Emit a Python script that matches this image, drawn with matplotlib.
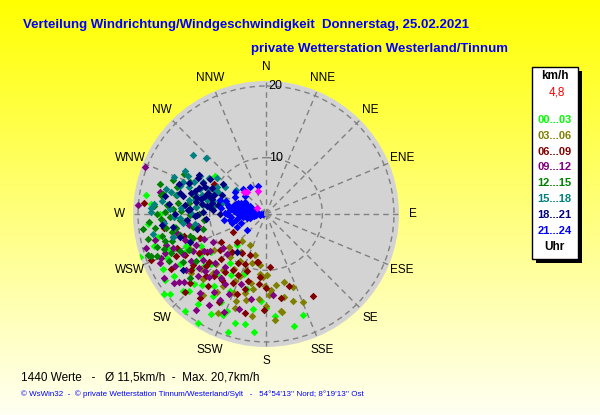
import numpy as np
from matplotlib import pyplot as plt
from matplotlib.patches import Rectangle

""" Windrose scatter: direction vs. speed, coloured by 3-hour block """

# direction (deg, compass) and speed (km/h) per 3-hour block
dir_00_03 = [186, 160, 251, 232, 212, 307, 279, 275, 254, 237, 217, 209, 202, 196, 191, 183, 194, 216, 216, 225,
             227, 223, 265, 240, 245, 230, 222, 205, 210, 200, 235, 250, 258, 242, 230, 188, 175, 166, 198, 220,
             228, 233, 238, 219, 213, 226, 246, 207, 262, 270, 203, 180, 244, 236, 248]
spd_00_03 = [18.7, 17.1, 20.7, 20.2, 20.1, 11.0, 19.1, 18.3, 18.4, 19.0, 17.8, 18.1, 16.8, 18.0, 17.8, 14.3, 13.0, 10.6, 14.6, 17.4,
             18.0, 8.0, 18.7, 16.0, 14.5, 13.5, 15.5, 14.0, 12.0, 11.0, 11.5, 16.5, 17.5, 18.5, 19.6, 15.5, 16.5, 18.2, 19.5, 19.8,
             12.5, 15.0, 13.0, 13.0, 15.8, 16.2, 17.2, 16.0, 15.0, 17.0, 17.5, 15.2, 12.2, 17.6, 14.2]

dir_03_06 = [157, 171, 172, 181, 207, 221, 196, 187, 179, 165, 171, 192, 289, 200, 205, 210, 215, 220, 225,
             230, 212, 202, 195, 185, 178, 168, 160, 188, 198, 218, 228, 235, 240, 195, 183, 175, 206, 214,
             190, 203, 211, 217, 224, 199, 186, 176, 209, 193, 222, 232, 163, 180, 245]
spd_03_06 = [15.5, 15.8, 12.2, 12.2, 7.0, 7.2, 9.2, 9.3, 10.6, 12.0, 16.0, 12.0, 10.9, 10.5, 12.5, 11.0, 13.0, 10.0, 12.0,
             14.0, 15.0, 14.0, 13.5, 14.0, 13.5, 14.0, 13.0, 16.5, 16.0, 16.5, 9.0, 11.0, 12.5, 8.0, 11.0, 17.0, 17.5, 8.5,
             12.8, 11.5, 13.8, 12.0, 14.8, 15.0, 10.5, 12.8, 9.6, 14.5, 13.2, 15.5, 14.8, 15.0, 13.8]

dir_06_09 = [150, 162, 176, 190, 226, 248, 196, 181, 191, 201, 275, 300, 242, 210, 215, 220, 225, 230, 235,
             240, 245, 205, 200, 208, 218, 228, 238, 232, 212, 186, 192, 170, 250, 255, 198, 222, 185, 240,
             214, 224, 233, 243, 206, 219, 229, 237, 195, 211, 249, 203, 226, 180, 262]
spd_06_09 = [15.3, 12.7, 9.5, 8.9, 7.8, 19.4, 13.0, 15.6, 9.0, 8.2, 19.2, 10.6, 7.4, 10.0, 12.0, 13.5, 11.0, 12.5, 14.5,
             13.0, 16.0, 11.5, 14.0, 16.0, 17.0, 16.5, 9.5, 10.2, 8.5, 12.0, 16.2, 14.0, 12.0, 14.0, 10.5, 9.2, 11.0, 17.5,
             13.2, 14.2, 15.2, 14.8, 12.8, 15.0, 13.2, 12.0, 11.8, 11.2, 15.5, 9.8, 17.8, 12.5, 16.5]

dir_09_12 = [291, 274, 282, 257, 245, 232, 216, 196, 175, 250, 244, 238, 240, 234, 228, 222, 226, 236, 246, 252,
             256, 230, 220, 214, 210, 218, 205, 200, 242, 248, 262, 266, 224, 232, 212, 238, 203, 190, 254, 260,
             227, 235, 243, 249, 221, 215, 239, 231, 253, 258, 208, 247, 233]
spd_09_12 = [20.3, 20.1, 17.2, 18.1, 18.4, 17.5, 18.7, 15.9, 13.5, 16.0, 15.0, 14.5, 16.8, 13.0, 15.0, 14.0, 12.0, 11.5, 12.8, 14.0,
             15.5, 17.0, 16.5, 15.2, 13.5, 11.5, 14.5, 12.5, 10.5, 11.5, 13.0, 16.5, 10.0, 9.8, 17.2, 19.0, 17.0, 14.2, 19.5, 11.8,
             13.8, 15.8, 13.5, 17.2, 12.8, 13.0, 12.2, 14.2, 16.8, 14.8, 15.8, 18.0, 18.2]

dir_12_15 = [286, 287, 293, 280, 270, 263, 250, 249, 251, 253, 275, 268, 262, 258, 272, 265, 278, 256, 260,
             270, 282, 276, 254, 248, 266, 258, 245, 252, 240, 274, 284, 290, 264, 244, 236, 230, 257, 296,
             261, 267, 273, 255, 259, 269, 277, 263, 251, 247, 271, 281, 266, 254, 279]
spd_12_15 = [17.5, 15.1, 13.7, 17.0, 17.3, 19.5, 19.2, 18.4, 19.6, 18.0, 16.0, 15.5, 16.2, 17.0, 14.0, 13.5, 13.0, 14.5, 12.5,
             11.5, 15.0, 12.0, 15.8, 16.5, 18.5, 19.0, 14.0, 12.8, 15.5, 17.8, 12.5, 16.0, 10.8, 17.2, 14.0, 16.0, 11.2, 14.8,
             14.8, 16.8, 15.2, 16.8, 15.5, 12.8, 14.5, 17.8, 17.2, 15.2, 16.2, 16.8, 14.2, 13.2, 11.2]

dir_15_18 = [309, 298, 283, 288, 273, 275, 271, 260, 283, 279, 309, 306, 302, 291, 285, 290, 278, 286, 294,
             280, 274, 268, 284, 292, 277, 265, 296, 300, 288, 282, 295, 276, 270, 264, 299, 256, 262, 313,
             287, 293, 281, 289, 297, 284, 279, 291, 286, 273, 303, 295, 282, 277, 267]
spd_15_18 = [15.3, 15.0, 15.7, 14.7, 18.2, 17.8, 18.2, 18.1, 10.6, 7.2, 7.5, 10.6, 11.6, 12.0, 9.0, 10.0, 11.0, 12.5, 13.2,
             13.0, 14.0, 15.0, 16.5, 16.0, 16.8, 16.5, 14.2, 12.8, 8.2, 8.5, 9.5, 12.0, 12.5, 13.8, 10.0, 15.5, 12.2, 13.5,
             10.8, 11.0, 12.2, 13.5, 12.0, 9.8, 9.5, 14.5, 11.5, 15.5, 9.0, 10.2, 14.8, 10.2, 14.2]

dir_18_21 = [300, 302, 305, 298, 294, 282, 266, 236, 218, 285, 278, 290, 272, 268, 280, 288, 276, 284,
             270, 262, 292, 296, 274, 265, 258, 286, 281, 270, 293, 250, 255, 276, 289, 264, 280,
             283, 287, 279, 274, 291, 286, 277, 282, 269, 273, 296, 290, 284]
spd_18_21 = [13.0, 11.3, 9.5, 12.9, 11.4, 14.0, 13.2, 16.1, 8.8, 10.0, 10.5, 9.8, 11.0, 12.0, 12.0, 12.5, 13.5, 14.5,
             14.8, 15.2, 13.8, 10.5, 9.5, 10.5, 12.0, 11.0, 9.0, 8.5, 8.8, 13.5, 14.5, 15.8, 15.0, 16.8, 16.5,
             11.5, 10.5, 11.2, 12.8, 12.2, 13.0, 10.0, 9.8, 11.8, 13.0, 12.0, 10.8, 12.2]

dir_21_24 = [270, 265, 275, 280, 260, 285, 272, 290, 255, 278, 268, 295, 283, 262, 300, 275, 288, 250, 270, 310,
             280, 292, 258, 318, 329, 345, 276, 285, 265, 255, 246, 298, 280, 272, 288, 262, 287, 278, 230, 305,
             273, 277, 283, 267, 271, 279, 286, 291, 264, 274, 281, 268, 282, 289, 276, 261, 294, 270, 284, 266,
             279, 273, 287, 259, 296]
spd_21_24 = [2.5, 3.0, 3.2, 3.5, 3.8, 4.0, 4.2, 4.4, 4.5, 4.8, 5.0, 5.0, 5.2, 5.4, 5.5, 5.6, 5.8, 5.8, 6.0, 6.0,
             6.2, 6.3, 6.4, 6.9, 6.6, 6.2, 6.6, 6.8, 7.0, 7.0, 6.6, 7.1, 7.4, 7.8, 8.0, 8.1, 8.8, 8.5, 5.6, 7.4,
             3.8, 4.5, 4.8, 4.2, 5.4, 5.2, 5.0, 5.8, 6.0, 6.4, 5.8, 5.6, 6.8, 6.6, 7.2, 7.2, 6.0, 7.6, 7.6, 3.5,
             3.6, 2.9, 3.9, 4.8, 4.6]

# latest readings (magenta)
dir_now = [314, 318, 341, 304]
spd_now = [6.5, 6.2, 5.5, 3.7]

blocks = ['00...03', '03...06', '06...09', '09...12', '12...15', '15...18', '18...21', '21...24']
block_colors = ['#00FF00', '#808000', '#800000', '#800080', '#008000', '#008080', '#000080', '#0000FF']
directions = ['N', 'NNE', 'NE', 'ENE', 'E', 'ESE', 'SE', 'SSE', 'S', 'SSW', 'SW', 'WSW', 'W', 'WNW', 'NW', 'NNW']

R0 = 2.14
RMAX = 20.7

plt.rcParams['font.family'] = ['Liberation Sans', 'DejaVu Sans']

fig = plt.figure(figsize=(6, 4.15), dpi=100)

# yellow -> cream background
bg = fig.add_axes([0, 0, 1, 1], zorder=-10)
grad = np.ones((256, 1, 3))
grad[:, 0, 2] = np.linspace(0.0, 0.95, 256)
bg.imshow(grad, aspect='auto', extent=[0, 1, 0, 1], origin='upper')
bg.set_axis_off()

ax = fig.add_axes([0.2217, 0.1639, 0.4433, 0.641], projection='polar')
ax.set_theta_zero_location('N')
ax.set_theta_direction(-1)
ax.set_rlim(R0, RMAX)
ax.set_facecolor('#D3D3D3')
ax.spines['polar'].set_visible(False)
ax.set_thetagrids(np.arange(0, 360, 22.5), labels=[])
ax.set_rgrids([10, 20], labels=[])
ax.grid(True, color='#808080', linestyle=(0, (4, 3)), linewidth=1)

all_dirs = [dir_00_03, dir_03_06, dir_06_09, dir_09_12, dir_12_15, dir_15_18, dir_18_21, dir_21_24]
all_spds = [spd_00_03, spd_03_06, spd_06_09, spd_09_12, spd_12_15, spd_15_18, spd_18_21, spd_21_24]
for d, s, c in zip(all_dirs, all_spds, block_colors):
    ax.scatter(np.radians(d), s, marker='D', s=15, color=c, linewidths=0, zorder=3)
ax.scatter(np.radians(dir_now), spd_now, marker='D', s=15, color='#FF00FF', linewidths=0, zorder=4)
ax.scatter([0], [R0], marker='s', s=10, color='#909090', linewidths=0, zorder=5)

for i, lab in enumerate(directions):
    ax.text(np.radians(i * 22.5), 22.65, lab, ha='center', va='center', fontsize=8.5, clip_on=False)
for r in [10, 20]:
    ax.annotate(str(r), xy=(0, r), xytext=(2, 0), textcoords='offset points',
                ha='left', va='center', fontsize=9)

# titles
fig.text(23 / 600, 1 - 25 / 415, 'Verteilung Windrichtung/Windgeschwindigkeit  Donnerstag, 25.02.2021',
         color='#0000FF', fontsize=9.5, fontweight='bold', va='center')
fig.text(251 / 600, 1 - 49 / 415, 'private Wetterstation Westerland/Tinnum',
         color='#0000FF', fontsize=9.5, fontweight='bold', va='center')

# legend box
fig.patches.append(Rectangle((535.5 / 600, 1 - 263 / 415), 46 / 600, 192 / 415,
                             transform=fig.transFigure, facecolor='black', edgecolor='none'))
fig.patches.append(Rectangle((531.5 / 600, 1 - 259 / 415), 46 / 600, 192 / 415,
                             transform=fig.transFigure, facecolor='white', edgecolor='black', linewidth=1))
xc = 554.5 / 600
fig.text(xc, 1 - 76 / 415, 'km/h', ha='center', va='center', fontsize=8.5, fontweight='bold')
fig.text(xc + 2 / 600, 1 - 92.3 / 415, '4,8', ha='center', va='center', fontsize=8.5, color='#FF0000')
for i, (lab, c) in enumerate(zip(blocks, block_colors)):
    fig.text(xc, 1 - (120 + i * 15.8) / 415, lab, ha='center', va='center',
             fontsize=8, fontweight='bold', color=c)
fig.text(xc, 1 - 247.3 / 415, 'Uhr', ha='center', va='center', fontsize=8.5, fontweight='bold')

# footer
fig.text(21 / 600, 1 - 377 / 415, '1440 Werte   -   \u00d8 11,5km/h  -  Max. 20,7km/h',
         fontsize=8.5, va='center')
fig.text(21 / 600, 1 - 394 / 415,
         "\u00a9 WsWin32  -  \u00a9 private Wetterstation Tinnum/Westerland/Sylt   -   54\u00b054'13'' Nord; 8\u00b019'13'' Ost",
         fontsize=5.8, color='#0000FF', va='center')

fig.savefig('out.png', dpi=100)
